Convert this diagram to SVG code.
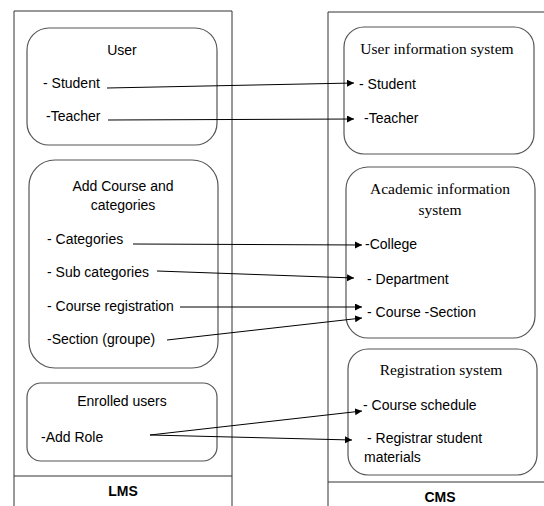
<svg xmlns="http://www.w3.org/2000/svg" width="544" height="506" viewBox="0 0 544 506">
<style>
.frame{fill:none;stroke:#333;stroke-width:1}
.node{fill:#fff;stroke:#555;stroke-width:1.2}
.s{font-family:"Liberation Sans",Arial,sans-serif;font-size:14px;fill:#000}
.sc{font-family:"Liberation Sans",Arial,sans-serif;font-size:14px;fill:#000;text-anchor:middle}
.t{font-family:"Liberation Serif","Times New Roman",serif;font-size:15.5px;fill:#000;text-anchor:middle}
.b{font-family:"Liberation Sans",Arial,sans-serif;font-size:14px;font-weight:bold;fill:#000;text-anchor:middle}
.c{stroke:#000;stroke-width:1;fill:none}
.ca{stroke:#000;stroke-width:1;fill:none;marker-end:url(#ah)}
</style>
<defs>
<marker id="ah" markerWidth="8" markerHeight="8" refX="7" refY="3.5" orient="auto" markerUnits="userSpaceOnUse">
<path d="M0,0 L7,3.5 L0,7 Z" fill="#000"/>
</marker>
</defs>
<rect width="544" height="506" fill="#fff"/>
<g id="lms">
<path class="frame" d="M14,507 V11 H232 V507"/>
<line class="frame" x1="14" y1="476" x2="232" y2="476"/>
<text class="b" x="123" y="496">LMS</text>
</g>
<g id="cms">
<path class="frame" d="M328,507 V12 H545"/>
<line class="frame" x1="328" y1="482" x2="545" y2="482"/>
<text class="b" x="440" y="502">CMS</text>
</g>
<g id="user">
<rect class="node" x="27" y="28" width="190" height="117" rx="22"/>
<text class="sc" x="122" y="55">User</text>
<text class="s" x="43" y="88">- Student</text>
<text class="s" x="46" y="121">-Teacher</text>
</g>
<g id="addcourse">
<rect class="node" x="29" y="160" width="189" height="208" rx="26"/>
<text class="sc" x="123" y="191">Add Course and</text>
<text class="sc" x="123" y="210">categories</text>
<text class="s" x="47" y="244">- Categories</text>
<text class="s" x="47" y="277">- Sub categories</text>
<text class="s" x="47" y="311">- Course registration</text>
<text class="s" x="47" y="344">-Section (groupe)</text>
</g>
<g id="enrolled">
<rect class="node" x="27" y="383" width="190" height="78" rx="14"/>
<text class="sc" x="122" y="406">Enrolled users</text>
<text class="s" x="41" y="442">-Add Role</text>
</g>
<g id="uis">
<rect class="node" x="344" y="27" width="190" height="127" rx="20"/>
<text class="t" x="437" y="54">User information system</text>
<text class="s" x="359" y="89">- Student</text>
<text class="s" x="364" y="123">-Teacher</text>
</g>
<g id="ais">
<rect class="node" x="346" y="167" width="189" height="171" rx="22"/>
<text class="t" x="440" y="194">Academic information</text>
<text class="t" x="440" y="215">system</text>
<text class="s" x="365" y="249">-College</text>
<text class="s" x="367" y="284">- Department</text>
<text class="s" x="367" y="317">- Course -Section</text>
</g>
<g id="rs">
<rect class="node" x="348" y="349" width="189" height="126" rx="20"/>
<text class="t" x="441" y="375">Registration system</text>
<text class="s" x="363" y="410">- Course schedule</text>
<text class="s" x="367" y="443">- Registrar student</text>
<text class="s" x="364" y="462">materials</text>
</g>
<g id="connectors">
<line class="ca" x1="107" y1="88" x2="354" y2="83"/>
<line class="ca" x1="108" y1="120" x2="354" y2="119"/>
<line class="ca" x1="133" y1="244" x2="362" y2="245"/>
<line class="ca" x1="157" y1="271" x2="354" y2="278"/>
<line class="ca" x1="180" y1="307" x2="362" y2="307"/>
<line class="ca" x1="167" y1="340" x2="362" y2="318"/>
<line class="ca" x1="150" y1="435" x2="362" y2="411"/>
<line class="ca" x1="150" y1="435" x2="352" y2="440"/>
</g>
</svg>
